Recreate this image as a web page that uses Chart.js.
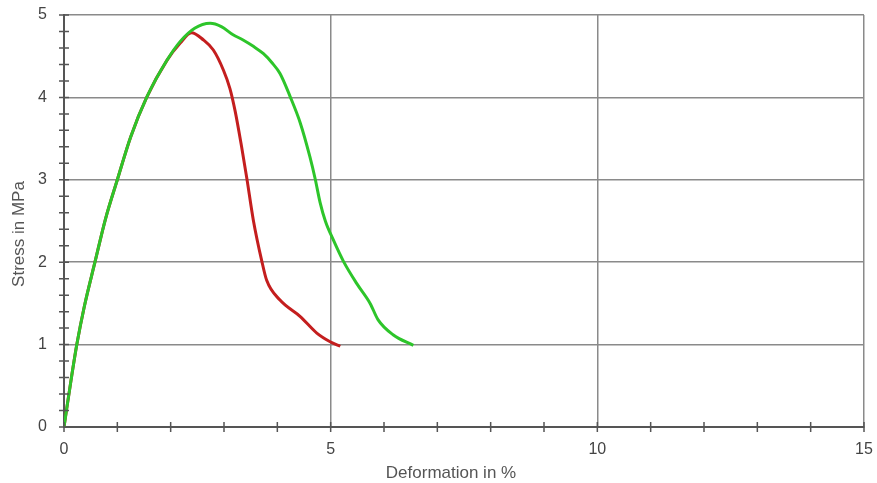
<!DOCTYPE html>
<html>
<head>
<meta charset="utf-8">
<script src="https://cdn.jsdelivr.net/npm/chart.js@4.4.0/dist/chart.umd.min.js"></script>
<style>
  html, body { margin: 0; padding: 0; background: #fff; }
  #wrap { width: 877px; height: 483px; }
</style>
</head>
<body>
<div id="wrap"><canvas id="stressChart" width="877" height="483"></canvas></div>
<script>
// Deformation (%) / stress (MPa)
const greenStrain = [0, 0.05, 0.13, 0.24, 0.38, 0.58, 0.78, 1.0, 1.25, 1.55, 1.93, 2.18, 2.45, 2.74, 2.95, 3.17, 3.35, 3.55, 3.74, 3.9, 4.05, 4.24, 4.43, 4.61, 4.71, 4.8, 4.9, 5.05, 5.24, 5.49, 5.74, 5.89, 6.17, 6.55];
const greenStress = [0, 0.22, 0.56, 1.0, 1.46, 2.0, 2.53, 3.0, 3.52, 4.0, 4.45, 4.68, 4.84, 4.9, 4.86, 4.76, 4.7, 4.62, 4.53, 4.42, 4.29, 4.01, 3.69, 3.28, 3.01, 2.73, 2.5, 2.27, 2.01, 1.74, 1.5, 1.3, 1.12, 0.99];

const redStrain = [0, 0.05, 0.13, 0.24, 0.38, 0.58, 0.78, 1.0, 1.25, 1.55, 1.93, 2.18, 2.39, 2.61, 2.8, 2.99, 3.11, 3.21, 3.33, 3.43, 3.55, 3.71, 3.8, 4.05, 4.43, 4.74, 4.99, 5.18];
const redStress = [0, 0.22, 0.56, 1.0, 1.46, 2.0, 2.53, 3.0, 3.52, 4.0, 4.45, 4.66, 4.785, 4.7, 4.575, 4.33, 4.11, 3.83, 3.4, 3.01, 2.51, 2.01, 1.78, 1.54, 1.34, 1.14, 1.035, 0.98];

const xMajorTicks = [0, 5, 10, 15];
const yMajorTicks = [0, 1, 2, 3, 4, 5];
const xTitle = 'Deformation in %';
const yTitle = 'Stress in MPa';

function toPoints(xs, ys) {
    return xs.map((x, i) => ({ x: x, y: ys[i] }));
}

// small tick marks crossing the axes + axis titles
const axisDecor = {
    id: 'axisDecor',
    afterDraw(chart) {
        const ctx = chart.ctx;
        const xs = chart.scales.x;
        const ys = chart.scales.y;
        const area = chart.chartArea;
        ctx.save();
        ctx.strokeStyle = '#555';
        ctx.lineWidth = 1.5;
        ctx.beginPath();
        for (let v = 0; v <= 15; v++) {
            const px = xs.getPixelForValue(v);
            ctx.moveTo(px, area.bottom - 5);
            ctx.lineTo(px, area.bottom + 5);
        }
        for (let k = 0; k <= 25; k++) {
            const py = ys.getPixelForValue(k * 0.2);
            ctx.moveTo(area.left - 5, py);
            ctx.lineTo(area.left + 5, py);
        }
        ctx.stroke();

        ctx.fillStyle = '#555';
        ctx.font = '17px "Liberation Sans", Arial, sans-serif';
        ctx.textAlign = 'center';
        ctx.textBaseline = 'middle';
        ctx.fillText(xTitle, (area.left + area.right) / 2 - 13, 473);
        ctx.translate(19.5, (area.top + area.bottom) / 2 + 13);
        ctx.rotate(-Math.PI / 2);
        ctx.fillText(yTitle, 0, 0);
        ctx.restore();
    }
};

const ctx = document.getElementById('stressChart').getContext('2d');
const stressChart = new Chart(ctx, {
    type: 'scatter',
    data: {
        datasets: [{
            label: 'Sample 2',
            data: toPoints(greenStrain, greenStress),
            showLine: true,
            borderColor: '#2dc52a',
            borderWidth: 3,
            pointRadius: 0,
            cubicInterpolationMode: 'monotone'
        }, {
            label: 'Sample 1',
            data: toPoints(redStrain, redStress),
            showLine: true,
            borderColor: '#c41e1e',
            borderWidth: 3,
            pointRadius: 0,
            cubicInterpolationMode: 'monotone'
        }]
    },
    options: {
        responsive: false,
        animation: false,
        layout: {
            padding: { left: 0, right: 13, top: 15, bottom: 0 }
        },
        plugins: {
            legend: { display: false },
            tooltip: { enabled: false }
        },
        scales: {
            x: {
                type: 'linear',
                min: 0,
                max: 15,
                afterFit: (scale) => {
                    scale.height = 56;
                    scale.paddingLeft = 0;
                    scale.paddingRight = 0;
                },
                afterBuildTicks: (scale) => { scale.ticks = xMajorTicks.map(v => ({ value: v })); },
                grid: { color: '#8a8a8a', lineWidth: 1.5, drawTicks: false },
                border: { color: '#555', width: 2 },
                ticks: {
                    padding: 13,
                    color: '#444',
                    font: { family: '"Liberation Sans", Arial, sans-serif', size: 16 }
                }
            },
            y: {
                type: 'linear',
                min: 0,
                max: 5,
                afterFit: (scale) => {
                    scale.width = 64;
                    scale.paddingTop = 0;
                    scale.paddingBottom = 0;
                },
                afterBuildTicks: (scale) => { scale.ticks = yMajorTicks.map(v => ({ value: v })); },
                grid: { color: '#8a8a8a', lineWidth: 1.5, drawTicks: false },
                border: { color: '#555', width: 2 },
                ticks: {
                    padding: 17,
                    color: '#444',
                    font: { family: '"Liberation Sans", Arial, sans-serif', size: 16 }
                }
            }
        }
    },
    plugins: [axisDecor]
});
</script>
</body>
</html>
